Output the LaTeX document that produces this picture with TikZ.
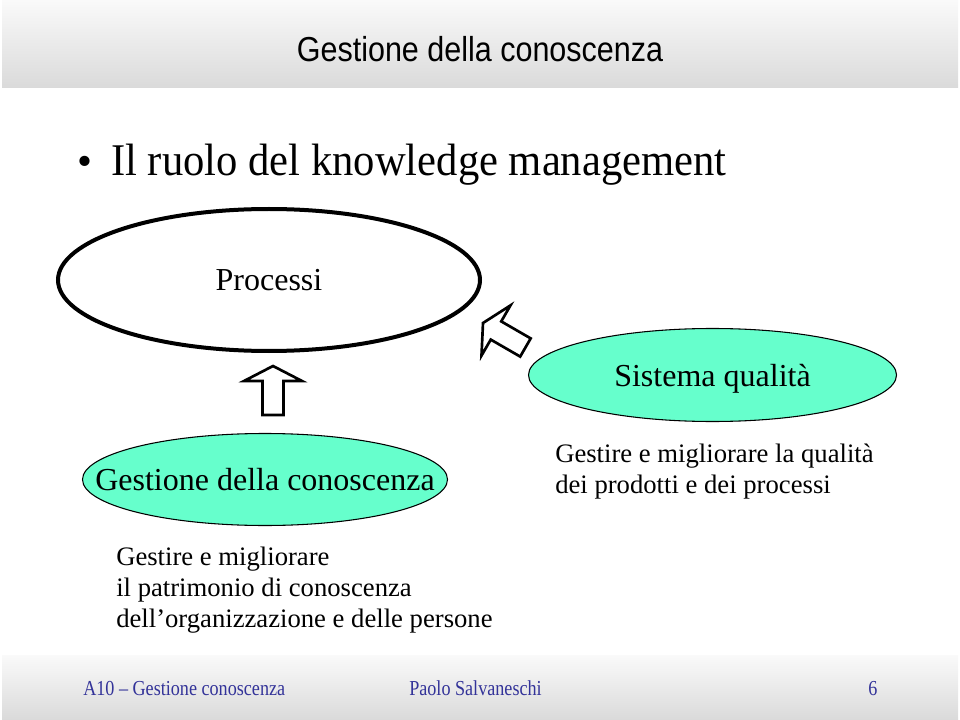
\documentclass[tikz,border=0pt]{standalone}
\usepackage{fontspec}
\setmainfont{Liberation Serif}
\newfontfamily\headfont[FakeStretch=0.88]{Liberation Sans}
\newfontfamily\footfont[FakeStretch=0.85]{Liberation Serif}
\usepackage{xcolor}
\usepackage{tikz}
\usetikzlibrary{shapes.geometric}
\definecolor{bartop}{HTML}{FAFAFA}
\definecolor{barbot}{HTML}{DADADA}
\definecolor{aqua}{HTML}{66FFCC}
\definecolor{footblue}{HTML}{333399}
\tikzset{
  bar/.style={top color=bartop, bottom color=barbot},
  bigoval/.style={ellipse, draw=black, fill=white, line width=3pt, inner sep=0pt, inner xsep=-40pt, font=\fontsize{24}{28}\selectfont},
  bubble/.style={ellipse, draw=black, fill=aqua, line width=0.8pt, inner sep=0pt, inner xsep=-40pt, text depth=0pt, font=\fontsize{24}{28}\selectfont},
  body/.style={align=left, inner sep=0pt, anchor=north west, font=\fontsize{20}{23.25}\selectfont},
  foot/.style={text=footblue, inner sep=0pt, font=\footfont\fontsize{16}{18}\selectfont},
  hollow/.style={draw=black, fill=white, line width=2pt, line join=miter},
  bigarrow/.pic={
    \draw[hollow] (0,0) -- (29,15) -- (10.5,15) -- (10.5,49) -- (-10.5,49) -- (-10.5,15) -- (-29,15) -- cycle;
  }
}
\begin{document}
\begin{tikzpicture}[x=0.75pt, y=-0.75pt]
  \useasboundingbox (0,0) rectangle (960,720);

  % slide bars
  \shade[bar] (2,0) rectangle (958,88);
  \shade[bar] (2,655) rectangle (958,719);
  \node[font=\headfont\fontsize{26}{30}\selectfont, anchor=base] (title) at (480,62) {Gestione della conoscenza};

  \node[font=\fontsize{32}{36}\selectfont, anchor=base, inner sep=0pt] (dot) at (85,176) {•};
  \node[font=\fontsize{34}{38}\selectfont, anchor=base west, inner sep=0pt] (head) at (111,176) {\addfontfeature{FakeStretch=0.94}Il ruolo del knowledge management};

  % ovals
  \node[bigoval, minimum width=316.5pt, minimum height=106.5pt] (proc) at (269,280) {Processi};
  \node[bubble, minimum width=276pt, minimum height=69.75pt] (sysq) at (712.5,375) {Sistema qualità};
  \node[bubble, minimum width=273.75pt, minimum height=69pt] (gcon) at (265,479.5) {Gestione della conoscenza};

  % hollow arrows
  \pic at (273,366) {bigarrow};
  \pic[rotate=60] at (483,323) {bigarrow};

  \node[body] (qtext) at (555,444) {Gestire e migliorare la qualità\\dei prodotti e dei processi};
  \node[body] (ktext) at (116,547) {Gestire e migliorare\\il patrimonio di conoscenza\\dell’organizzazione e delle persone};

  \node[foot, anchor=base west] (course) at (83,695) {A10 – Gestione conoscenza};
  \node[foot, anchor=base west] (author) at (409,695) {Paolo Salvaneschi};
  \node[foot, anchor=base] (page) at (873,695) {6};
\end{tikzpicture}
\end{document}
